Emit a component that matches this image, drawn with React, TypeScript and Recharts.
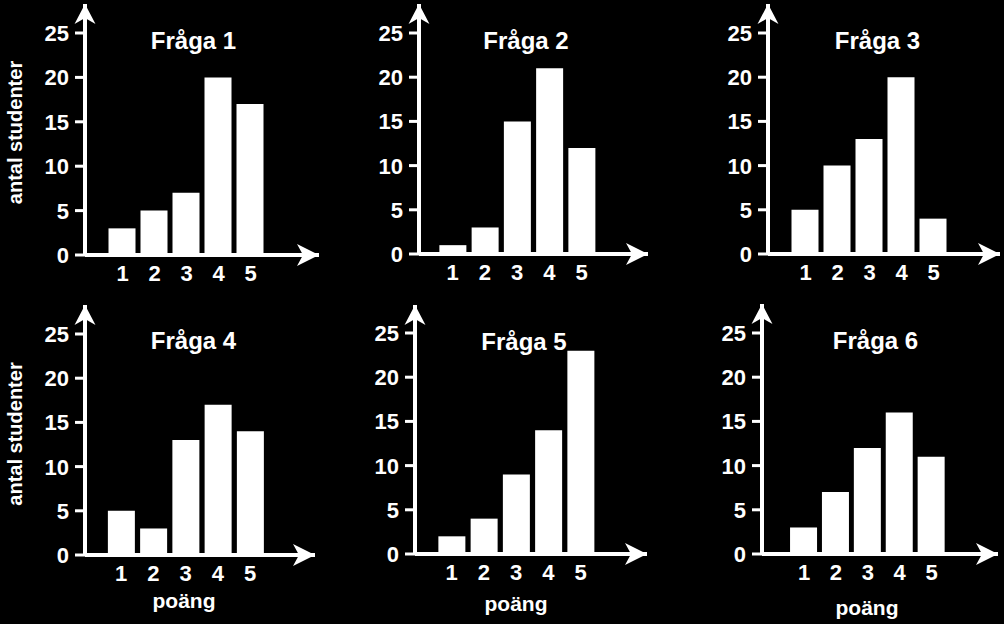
import React from 'react';
import { BarChart, Bar, XAxis, YAxis, ReferenceDot, Customized } from 'recharts';

// ---------- data ----------
const scores = [1, 2, 3, 4, 5];
const fraga1 = [3, 5, 7, 20, 17];
const fraga2 = [1, 3, 15, 21, 12];
const fraga3 = [5, 10, 13, 20, 4];
const fraga4 = [5, 3, 13, 17, 14];
const fraga5 = [2, 4, 9, 14, 23];
const fraga6 = [3, 7, 12, 16, 11];
const titles = ['Fråga 1', 'Fråga 2', 'Fråga 3', 'Fråga 4', 'Fråga 5', 'Fråga 6'];
const yTicks = [0, 5, 10, 15, 20, 25];
const yAxisLabel = 'antal studenter';
const xAxisLabel = 'poäng';

const series = [fraga1, fraga2, fraga3, fraga4, fraga5, fraga6];

// ---------- layout (pixels, page coordinates) ----------
const FONT = '"Liberation Sans", Arial, Helvetica, sans-serif';
const YW = 85;
type Layout = {
  axisX: number; axisY: number; topY: number; rightX: number; y25: number;
  c1: number; unit: number; titleX: number; titleY: number;
  yl?: { x: number; y: number }; xl?: { x: number; y: number };
};
const layouts: Layout[] = [
  { axisX: 85, axisY: 255, topY: 4, rightX: 319, y25: 33, c1: 122.5, unit: 32, titleX: 193.5, titleY: 49, yl: { x: 22, y: 132.5 } },
  { axisX: 419, axisY: 254, topY: 4, rightX: 648, y25: 33, c1: 452.5, unit: 32.25, titleX: 526, titleY: 49 },
  { axisX: 768, axisY: 254, topY: 4, rightX: 1000, y25: 33, c1: 805.5, unit: 32, titleX: 877.5, titleY: 49 },
  { axisX: 85, axisY: 555, topY: 305, rightX: 315, y25: 334, c1: 121, unit: 32.25, titleX: 193.5, titleY: 349, yl: { x: 22, y: 434 }, xl: { x: 184, y: 608 } },
  { axisX: 415, axisY: 554, topY: 305, rightX: 647, y25: 333, c1: 451.5, unit: 32.25, titleX: 524, titleY: 350, xl: { x: 516, y: 611 } },
  { axisX: 762, axisY: 554, topY: 304, rightX: 998, y25: 333, c1: 804, unit: 31.9, titleX: 875.5, titleY: 349, xl: { x: 867, y: 615 } },
];

const UpArrow = (props: any) => {
  const { cx, cy } = props;
  if (cx == null || cy == null) return <g />;
  return (
    <polygon
      points={`${cx},${cy} ${cx + 10.5},${cy + 20} ${cx},${cy + 14} ${cx - 10.5},${cy + 20}`}
      fill="#fff"
    />
  );
};
const RightArrow = (props: any) => {
  const { cx, cy } = props;
  if (cx == null || cy == null) return <g />;
  return (
    <polygon
      points={`${cx},${cy} ${cx - 22},${cy + 11} ${cx - 16},${cy} ${cx - 22},${cy - 11}`}
      fill="#fff"
    />
  );
};

const XTick = (props: any) => {
  const { x, y, payload } = props;
  return (
    <text x={x} y={y + 26} textAnchor="middle" fill="#fff" fontFamily={FONT} fontWeight="bold" fontSize={22}>
      {payload.value}
    </text>
  );
};
const YTick = (props: any) => {
  const { x, y, payload } = props;
  return (
    <text x={x} y={y + 8} textAnchor="end" fill="#fff" fontFamily={FONT} fontWeight="bold" fontSize={22}>
      {payload.value}
    </text>
  );
};

function Panel({ idx }: { idx: number }) {
  const L = layouts[idx];
  const values = series[idx];
  const data = scores.map((s, i) => ({ x: s, v: values[i] }));
  const xMin = 1 - (L.c1 - L.axisX) / L.unit;
  const xMax = 1 + (L.rightX - L.c1) / L.unit;
  const yMax = (25 * (L.axisY - L.topY)) / (L.axisY - L.y25);
  const left = L.axisX - YW;
  const top = L.topY;
  const width = YW + (L.rightX - L.axisX);
  const height = idx < 3 ? L.axisY - L.topY + 45 : 624 - L.topY;
  const xAxisH = height - (L.axisY - L.topY);

  const Texts = () => (
    <g>
      <text x={L.titleX - left} y={L.titleY - top} textAnchor="middle" fill="#fff" fontFamily={FONT} fontWeight="bold" fontSize={24}>
        {titles[idx]}
      </text>
      {L.yl && (
        <text
          x={L.yl.x - left}
          y={L.yl.y - top}
          transform={`rotate(-90 ${L.yl.x - left} ${L.yl.y - top})`}
          textAnchor="middle"
          fill="#fff"
          fontFamily={FONT}
          fontWeight="bold"
          fontSize={20}
        >
          {yAxisLabel}
        </text>
      )}
      {L.xl && (
        <text x={L.xl.x - left} y={L.xl.y - top} textAnchor="middle" fill="#fff" fontFamily={FONT} fontWeight="bold" fontSize={21}>
          {xAxisLabel}
        </text>
      )}
    </g>
  );

  return (
    <div style={{ position: 'absolute', left, top, width, height }}>
      <BarChart width={width} height={height} data={data} margin={{ top: 0, right: 0, bottom: 0, left: 0 }}>
        <XAxis
          dataKey="x"
          type="number"
          domain={[xMin, xMax]}
          ticks={scores}
          allowDataOverflow
          interval={0}
          height={xAxisH}
          axisLine={{ stroke: '#fff', strokeWidth: 4 }}
          tickLine={false}
          tickSize={0}
          tickMargin={0}
          tick={<XTick />}
        />
        <YAxis
          type="number"
          domain={[0, yMax]}
          ticks={yTicks}
          allowDataOverflow
          interval={0}
          width={YW}
          axisLine={{ stroke: '#fff', strokeWidth: 4 }}
          tickLine={{ stroke: '#fff', strokeWidth: 3 }}
          tickSize={10}
          tickMargin={6}
          tick={<YTick />}
        />
        <Bar dataKey="v" fill="#fff" barSize={27} isAnimationActive={false} />
        <ReferenceDot x={xMin} y={yMax} ifOverflow="visible" shape={<UpArrow />} />
        <ReferenceDot x={xMax} y={0} ifOverflow="visible" shape={<RightArrow />} />
        <Customized component={<Texts />} />
      </BarChart>
    </div>
  );
}

export default function App() {
  return (
    <div style={{ position: 'absolute', left: 0, top: 0, width: 1004, height: 624, background: '#000', overflow: 'hidden' }}>
      {layouts.map((_, i) => (
        <Panel key={i} idx={i} />
      ))}
    </div>
  );
}
